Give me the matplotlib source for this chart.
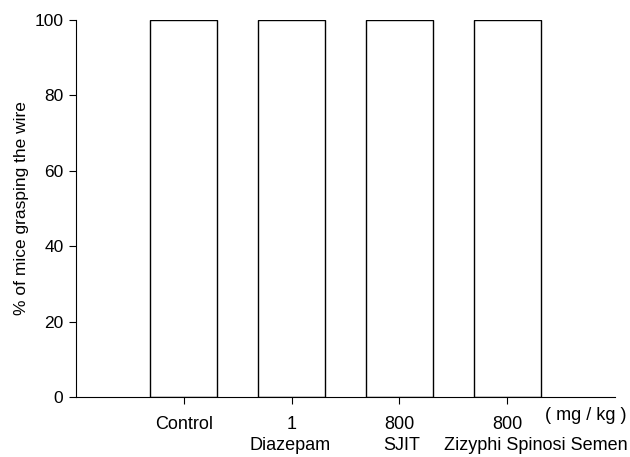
import matplotlib
matplotlib.use("Agg")
import matplotlib.pyplot as plt
from matplotlib.transforms import blended_transform_factory

plt.rcParams['font.family'] = ['Liberation Sans', 'DejaVu Sans']

doses = ["Control", "1", "800", "800"]
groups = ["", "Diazepam", "SJIT", "Zizyphi Spinosi Semen"]
group_dx = [0, -1, 2, 21]  # small label shifts in points, as in the reference
values = [100, 100, 100, 100]
yticks = [0, 20, 40, 60, 80, 100]

fig = plt.figure(figsize=(6.30, 4.57), dpi=100)
ax = fig.add_axes([0.1206, 0.1313, 0.8554, 0.8247])

pos = list(range(len(values)))
ax.bar(pos, values, width=0.62, color='white', edgecolor='black', linewidth=1.0)

ax.set_xlim(-1, 4)
ax.set_ylim(0, 100)
ax.set_yticks(yticks)
ax.set_yticklabels([str(t) for t in yticks], fontsize=12.5)
ax.set_xticks(pos)
ax.set_xticklabels(doses, fontsize=13)
ax.tick_params(axis='x', length=5, pad=9)
ax.tick_params(axis='y', length=5, pad=4)
ax.spines['top'].set_visible(False)
ax.spines['right'].set_visible(False)
ax.set_ylabel("% of mice grasping the wire", fontsize=12.5, labelpad=4)

blend = blended_transform_factory(ax.transData, fig.transFigure)
for p, g, dx in zip(pos, groups, group_dx):
    if g:
        ax.annotate(g, xy=(p, 1 - 446 / 457), xycoords=blend,
                    xytext=(dx, 0), textcoords='offset points',
                    fontsize=13, ha='center', va='center', annotation_clip=False)

fig.text(586 / 630, 1 - 416 / 457, "( mg / kg )", fontsize=13, ha='center', va='center')

fig.savefig("out.png", dpi=100)
